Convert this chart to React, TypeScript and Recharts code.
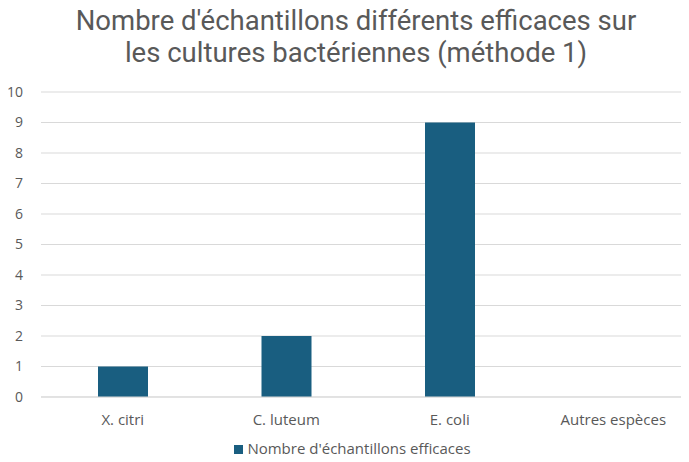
import { Bar, BarChart, CartesianGrid, Legend, XAxis, YAxis } from "recharts"

const categories = ["X. citri", "C. luteum", "E. coli", "Autres espèces"]
const efficaces = [1, 2, 9, 0]
const yTicks = [0, 1, 2, 3, 4, 5, 6, 7, 8, 9, 10]
const seriesName = "Nombre d'échantillons efficaces"
const titleLines = ["Nombre d'échantillons différents efficaces sur", "les cultures bactériennes (méthode 1)"]

const FONT = "'Open Sans', sans-serif"
const TITLE_FONT = "Roboto, sans-serif"
const TEXT = "#595959"

export default function App() {
  const chartData = categories.map((name, i) => ({ name, value: efficaces[i] }))

  return (
    <div style={{ position: "relative", width: 689, height: 462, overflow: "hidden", margin: -8, background: "#fff", fontFamily: FONT }}>
      <div style={{ position: "absolute", top: 5, left: 0, width: 712, textAlign: "center", color: TEXT, fontSize: 27.5, lineHeight: "32px", fontFamily: TITLE_FONT }}>
        {titleLines.map((l) => (
          <div key={l}>{l}</div>
        ))}
      </div>
      <BarChart width={700} height={462} data={chartData} margin={{ top: 92, right: 5, left: 0, bottom: 15 }}>
        <CartesianGrid vertical={false} stroke="#d9d9d9" />
        <XAxis
          dataKey="name"
          axisLine={{ stroke: "#d9d9d9" }}
          tickLine={false}
          height={30}
          tick={{ fontSize: 15, fill: TEXT, fontFamily: FONT }}
          tickMargin={11}
        />
        <YAxis
          domain={[0, 10]}
          ticks={yTicks}
          width={41}
          axisLine={false}
          tickLine={false}
          tick={{ fontSize: 14, fill: TEXT, fontFamily: FONT }}
          tickMargin={12}
        />
        <Legend
          verticalAlign="bottom"
          iconType="square"
          iconSize={9}
          wrapperStyle={{ fontSize: 15, color: TEXT, fontFamily: FONT, top: 438, left: 10 }}
          formatter={(v) => <span style={{ color: TEXT }}>{v}</span>}
        />
        <Bar dataKey="value" name={seriesName} fill="#195e80" barSize={50} isAnimationActive={false} />
      </BarChart>
    </div>
  )
}
